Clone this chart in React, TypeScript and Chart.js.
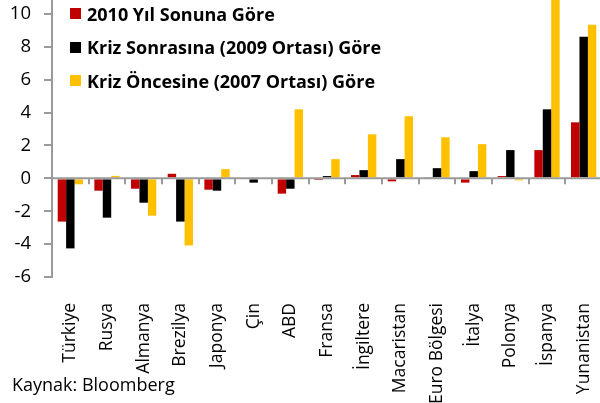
import React, { useEffect, useRef } from "react";
import { Chart, registerables } from "chart.js";

Chart.register(...registerables);

const categories = [
  "Türkiye", "Rusya", "Almanya", "Brezilya", "Japonya", "Çin", "ABD", "Fransa",
  "İngiltere", "Macaristan", "Euro Bölgesi", "İtalya", "Polonya", "İspanya", "Yunanistan",
];
const seriesNames = [
  "2010 Yıl Sonuna Göre",
  "Kriz Sonrasına (2009 Ortası) Göre",
  "Kriz Öncesine (2007 Ortası) Göre",
];
const since2010 = [-2.63, -0.75, -0.63, 0.28, -0.69, 0, -0.93, -0.1, 0.2, -0.18, 0.08, -0.26, 0.14, 1.72, 3.41];
const sinceCrisis = [-4.26, -2.39, -1.48, -2.63, -0.75, -0.26, -0.63, 0.14, 0.5, 1.17, 0.62, 0.44, 1.72, 4.2, 8.62];
const preCrisis = [-0.36, 0.15, -2.27, -4.08, 0.56, 0, 4.2, 1.17, 2.68, 3.78, 2.5, 2.08, -0.12, 11.3, 9.35];
const seriesColors = ["#C00000", "#000000", "#FFC000"];
const yTicks = [-6, -4, -2, 0, 2, 4, 6, 8, 10];

const FONT = "'Open Sans', 'Noto Sans', sans-serif";
const AXIS = "#9a9a9a";

const zeroLinePlugin = {
  id: "zeroLine",
  afterDatasetsDraw(chart: any) {
    const { ctx, chartArea, scales } = chart;
    const y0 = scales.y.getPixelForValue(0);
    const xs = scales.x;
    ctx.save();
    ctx.strokeStyle = AXIS;
    ctx.lineWidth = 2;
    ctx.beginPath();
    ctx.moveTo(chartArea.left, y0);
    ctx.lineTo(chartArea.right, y0);
    ctx.stroke();
    const n = categories.length;
    const w = xs.getPixelForValue(1) - xs.getPixelForValue(0);
    for (let i = 1; i <= n; i++) {
      const x = Math.round(xs.getPixelForValue(i) - w / 2);
      ctx.beginPath();
      ctx.moveTo(x, y0);
      ctx.lineTo(x, y0 + 6);
      ctx.stroke();
    }
    ctx.restore();
  },
};

export default function App() {
  const ref = useRef<HTMLCanvasElement | null>(null);
  useEffect(() => {
    if (!ref.current) return;
    const data = [since2010, sinceCrisis, preCrisis];
    const chart = new Chart(ref.current, {
      type: "bar",
      data: {
        labels: categories,
        datasets: seriesNames.map((name, i) => ({
          label: name,
          data: data[i],
          backgroundColor: seriesColors[i],
          borderWidth: 0,
          barPercentage: 1,
          categoryPercentage: 0.69,
        })),
      },
      options: {
        animation: false,
        responsive: false,
        maintainAspectRatio: false,
        layout: { padding: 0 },
        plugins: { legend: { display: false }, tooltip: { enabled: false } },
        scales: {
          x: {
            grid: { display: false, drawTicks: false },
            border: { display: false },
            ticks: {
              autoSkip: false,
              maxRotation: 90,
              minRotation: 90,
              padding: 26,
              color: "#000",
              font: { family: FONT, size: 17.5 },
            },
            afterFit(scale: any) {
              scale.height = 126;
              scale.paddingLeft = 0;
              scale.paddingRight = 0;
            },
          },
          y: {
            min: -6,
            max: 10.85,
            afterBuildTicks(scale: any) {
              const extra = scale.ticks.filter((t: any) => !yTicks.includes(t.value));
              scale.ticks = yTicks.map((v) => ({ value: v })).concat(extra);
              scale.ticks.sort((a: any, b: any) => a.value - b.value);
            },
            ticks: {
              stepSize: 2,
              padding: 13,
              color: "#000",
              font: { family: FONT, size: 18.5 },
              callback: (v: any) => (yTicks.includes(v) ? String(v) : null),
            },
            grid: { drawOnChartArea: false, drawTicks: true, tickLength: 8, color: AXIS, lineWidth: 2 },
            border: { display: true, color: AXIS, width: 2 },
            afterFit(scale: any) {
              scale.width = 52;
              scale.paddingTop = 0;
              scale.paddingBottom = 0;
            },
          },
        },
      },
      plugins: [zeroLinePlugin],
    });
    return () => chart.destroy();
  }, []);

  return (
    <div style={{ position: "absolute", left: 0, top: 0, width: 600, height: 403, overflow: "hidden", background: "#fff" }}>
      <canvas ref={ref} width={602} height={403} style={{ display: "block" }} />
      <div style={{ position: "absolute", left: 70, top: -3, fontFamily: FONT, fontWeight: 700, fontSize: 18, color: "#000" }}>
        {seriesNames.map((n, i) => (
          <div key={n} style={{ display: "flex", alignItems: "center", height: 33.5, whiteSpace: "nowrap" }}>
            <span style={{ display: "inline-block", width: 11, height: 11, background: seriesColors[i], marginRight: 6 }} />
            <span>{n}</span>
          </div>
        ))}
      </div>
      <div style={{ position: "absolute", left: 12, top: 372, fontFamily: FONT, fontSize: 18, color: "#000", whiteSpace: "nowrap" }}>
        Kaynak: Bloomberg
      </div>
    </div>
  );
}
